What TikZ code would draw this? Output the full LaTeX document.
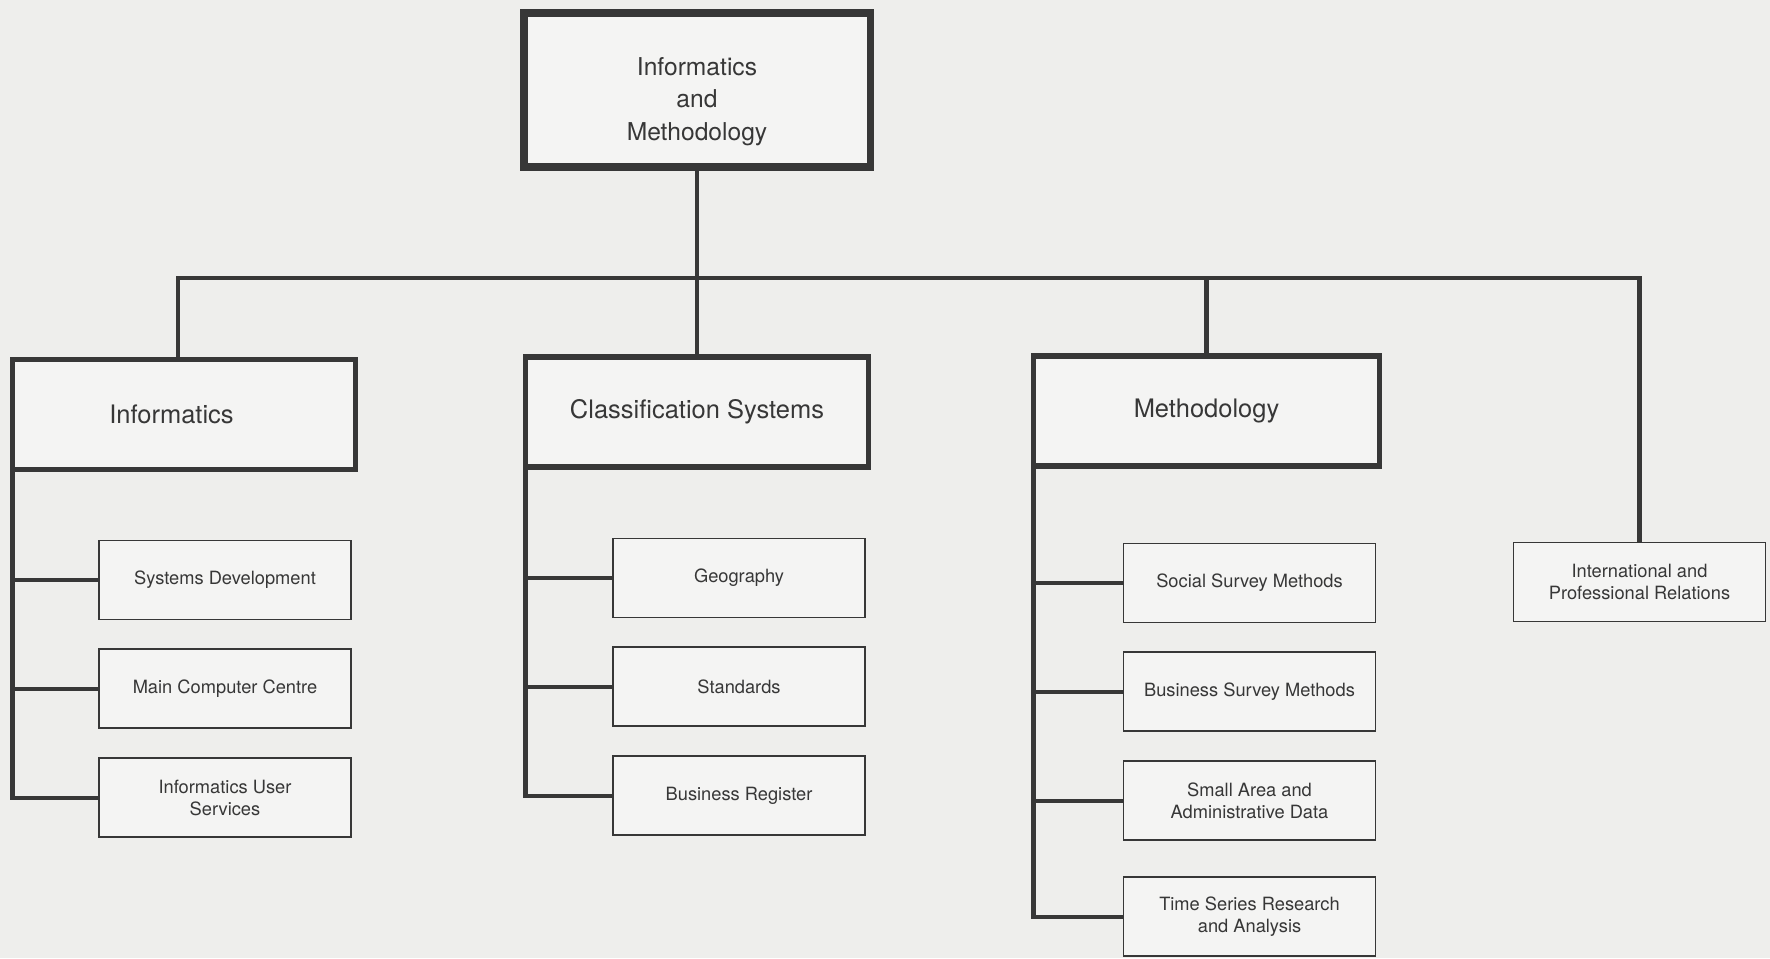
\documentclass[tikz,border=0pt]{standalone}
\usepackage{fontspec}
\setmainfont{TeX Gyre Heros}
\usetikzlibrary{positioning}

\definecolor{paper}{RGB}{238,238,236}
\definecolor{ink}{RGB}{55,55,55}
\definecolor{boxfill}{RGB}{244,244,243}

\begin{document}
\begin{tikzpicture}[
    node distance = 0.56cm, % gap between unit boxes
    line join = miter,
    link/.style = {draw = ink, line width = 2.6pt} % connector lines
    ]

    \tikzset{
    division/.style = {draw = ink, line width = 4pt, fill = boxfill, text = ink,
        align = center, minimum width = 6.92cm, minimum height = 3.08cm,
        text height = 60pt, font = \fontsize{14}{18.5}\selectfont},
    branch/.style = {draw = ink, line width = 2.9pt, fill = boxfill, text = ink,
        outer sep = 0pt, minimum width = 6.86cm, minimum height = 2.2cm,
        font = \fontsize{14.5}{17}\selectfont},
    unit/.style = {draw = ink, line width = 1.1pt, fill = boxfill, text = ink,
        align = center, minimum width = 5.04cm, minimum height = 1.58cm,
        font = \fontsize{10.4}{12.5}\selectfont}
    }

    \fill[paper] (0,0) rectangle (35.4,-19.16);
    \useasboundingbox (0,0) rectangle (35.4,-19.16);

    % head of the division
    \node[division] (im) at (13.94,-1.8) {Informatics\\and\\Methodology};

    % branches
    \node[branch] (inf) at (3.68,-8.29) {Informatics\hspace*{0.5cm}};
    \node[branch] (cls) at (13.94,-8.24) {Classification Systems};
    \node[branch, minimum width = 6.92cm] (met) at (24.13,-8.22) {Methodology};
    \coordinate (bus) at (0,-5.56);

    % units
    \node[unit] (isd) at (4.5,-11.6) {Systems Development};
    \node[unit] (imc) [below=of isd] {Main Computer Centre};
    \node[unit] (ius) [below=of imc] {Informatics User\\Services};

    \node[unit] (cgeo) at (14.78,-11.56) {Geography};
    \node[unit] (cstd) [below=of cgeo] {Standards};
    \node[unit] (cbr) [below=of cstd] {Business Register};

    \node[unit] (mss) at (24.99,-11.66) {Social Survey Methods};
    \node[unit] (mbs) [below=of mss] {Business Survey Methods};
    \node[unit] (msa) [below=of mbs] {Small Area and\\Administrative Data};
    \node[unit] (mts) [below=0.7cm of msa] {Time Series Research\\and Analysis};

    \node[unit] (intl) at (32.79,-11.64) {International and\\Professional Relations};

    % connectors
    \draw[link] (im.south) -- (cls.north);
    \draw[link] ([xshift=-0.12cm]inf.north) |- (intl.north |- bus) -- (intl.north);
    \draw[link] (met.north) -- (met.north |- bus);

    \draw[link] (inf.south west) |- (ius.west);
    \foreach \u in {isd,imc}
        \draw[link] (inf.south west |- \u.west) -- (\u.west);

    \draw[link] (cls.south west) |- (cbr.west);
    \foreach \u in {cgeo,cstd}
        \draw[link] (cls.south west |- \u.west) -- (\u.west);

    \draw[link] (met.south west) |- (mts.west);
    \foreach \u in {mss,mbs,msa}
        \draw[link] (met.south west |- \u.west) -- (\u.west);
\end{tikzpicture}
\end{document}
